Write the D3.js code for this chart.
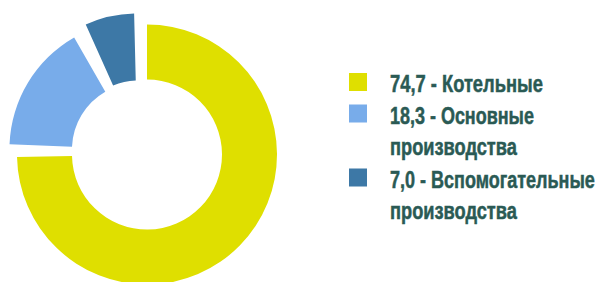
<!DOCTYPE html>
<html>
<head>
<meta charset="utf-8">
<script src="https://cdn.jsdelivr.net/npm/d3@7"></script>
<style>
  html, body { margin: 0; padding: 0; background: #fff; }
  svg { display: block; }
  .legend text { font-family: 'Liberation Sans', Arial, sans-serif; font-weight: bold; fill: #2a5a54; stroke: #2a5a54; stroke-width: 0.5; }
</style>
</head>
<body>
<div id="chart"></div>
<script>
// data
const categories = ['Котельные', 'Основные производства', 'Вспомогательные производства'];
const values = [74.7, 18.3, 7.0];
const colors = ['#dfdf00', '#78acea', '#3d78a6'];

// exploded look, per slice: offset (px, deg), radii, angle trims (deg)
const explode = [
  { d: 0,  dir: 0,     ri: 75,   ro: 130, t0: 0,   t1: 0 },
  { d: 10, dir: 301.2, ri: 66.5, ro: 129, t0: 3.3, t1: 4.7 },
  { d: 18, dir: 327,   ri: 59,   ro: 126, t0: 1.1, t1: 1.4 }
];

const width = 601, height = 282;
const cx = 147, cy = 154.5;
const rad = Math.PI / 180;

const svg = d3.select('#chart').append('svg')
  .attr('width', width)
  .attr('height', height);

const pie = d3.pie().sort(null).value(d => d);
const arcs = pie(values);

const g = svg.append('g').attr('transform', `translate(${cx},${cy})`);

g.selectAll('path')
  .data(arcs)
  .join('path')
  .attr('fill', (d, i) => colors[i])
  .attr('transform', (d, i) => {
    const e = explode[i];
    const a = e.dir * rad;
    return `translate(${e.d * Math.sin(a)},${-e.d * Math.cos(a)})`;
  })
  .attr('d', (d, i) => {
    const e = explode[i];
    return d3.arc()
      .innerRadius(e.ri)
      .outerRadius(e.ro)
      .startAngle(d.startAngle + e.t0 * rad)
      .endAngle(d.endAngle - e.t1 * rad)();
  });

// legend
const fmt = v => v.toFixed(1).replace('.', ',');
const legendX = 349, textX = 390;
const rowY = [92, 123.5, 155, 187.5, 219];
const lineWidths = [[153], [144, 127], [205, 127]];

const legend = svg.append('g').attr('class', 'legend');
let row = 0;
categories.forEach((c, i) => {
  const words = c.split(' ');
  const lines = [`${fmt(values[i])} - ${words[0]}`];
  if (words.length > 1) lines.push(words.slice(1).join(' '));
  legend.append('rect')
    .attr('x', legendX)
    .attr('y', rowY[row] - 19)
    .attr('width', 18)
    .attr('height', 18)
    .attr('fill', colors[i]);
  lines.forEach((l, j) => {
    const t = legend.append('text')
      .attr('font-size', 23.5)
      .text(l);
    // squeeze to the condensed width of the original font
    const sx = lineWidths[i][j] / t.node().getComputedTextLength();
    t.attr('transform', `translate(${textX},${rowY[row]}) scale(${sx},1)`);
    row++;
  });
});
</script>
</body>
</html>
